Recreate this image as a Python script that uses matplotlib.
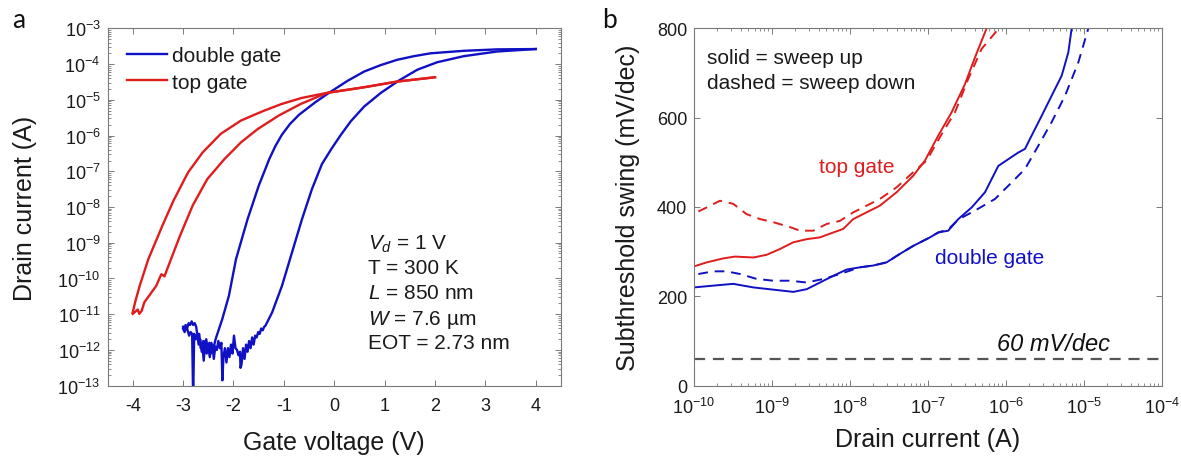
import numpy as np
import matplotlib
matplotlib.use("Agg")
import matplotlib.pyplot as plt
from matplotlib.ticker import LogLocator, NullFormatter, FixedLocator

plt.rcParams['font.family'] = ['Liberation Sans', 'DejaVu Sans']
plt.rcParams['mathtext.fontset'] = 'custom'
plt.rcParams['mathtext.rm'] = 'Liberation Sans'
plt.rcParams['mathtext.it'] = 'Liberation Sans:italic'
plt.rcParams['mathtext.bf'] = 'Liberation Sans:bold'
plt.rcParams['axes.unicode_minus'] = False

# ---------------- Panel a data (gate voltage V, log10 drain current A) ----------------
dg_up_v = [-3.00, -2.97, -2.94, -2.91, -2.88, -2.85, -2.82, -2.80, -2.78, -2.75, -2.72, -2.69,
           -2.66, -2.63, -2.60, -2.57, -2.54, -2.51, -2.48, -2.45, -2.42, -2.39, -2.36, -2.33,
           -2.30, -2.27, -2.24, -2.22, -2.20, -2.17, -2.14, -2.11, -2.08, -2.05, -2.02, -1.99,
           -1.96, -1.93, -1.90, -1.87, -1.86, -1.84, -1.81, -1.78, -1.75, -1.72, -1.69, -1.66,
           -1.63, -1.60, -1.57, -1.54, -1.51, -1.48, -1.45, -1.42, -1.39,
           -1.365, -1.233, -1.036, -0.838, -0.640, -0.443, -0.245, -0.05, 0.132, 0.329, 0.593,
           0.922, 1.285, 1.647, 2.042, 2.569, 3.228, 4.0]
dg_up_log = [-11.40, -11.50, -11.35, -11.45, -11.60, -11.50, -11.55, -13.40, -11.55, -11.70, -11.60, -11.85,
             -11.70, -12.05, -11.75, -11.95, -11.70, -12.00, -11.80, -12.10, -11.85, -12.25, -11.90, -12.00,
             -11.75, -11.95, -11.80, -12.85, -12.20, -11.95, -12.35, -11.95, -12.20, -11.85, -12.10, -11.60,
             -11.95, -12.00, -12.15, -12.05, -12.50, -12.40, -11.95, -12.25, -11.85, -12.05, -11.75, -11.95,
             -11.65, -11.85, -11.60, -11.65, -11.50, -11.55, -11.40, -11.45, -11.35,
             -11.32, -10.95, -10.20, -9.27, -8.34, -7.50, -6.80, -6.36, -5.98, -5.60, -5.19,
             -4.81, -4.46, -4.16, -3.95, -3.78, -3.65, -3.58]
dg_down_v = [4.0, 3.228, 2.569, 1.910, 1.580, 1.252, 0.922, 0.593, 0.264, -0.12, -0.377, -0.70,
             -0.88, -1.04, -1.17, -1.29, -1.50, -1.72, -1.95, -2.090, -2.221, -2.353,
             -2.38, -2.41, -2.44, -2.47, -2.50, -2.53, -2.56, -2.59, -2.62, -2.65, -2.68, -2.71,
             -2.74, -2.77, -2.80, -2.83, -2.86, -2.89, -2.92, -2.95, -2.98, -3.00]
dg_down_log = [-3.58, -3.59, -3.63, -3.70, -3.78, -3.88, -4.03, -4.21, -4.47, -4.82, -5.07, -5.42,
               -5.68, -5.98, -6.30, -6.66, -7.41, -8.34, -9.46, -10.48, -11.13, -11.69,
               -11.85, -12.05, -11.80, -12.20, -11.90, -12.10, -11.75, -12.30, -11.85, -11.95, -11.55, -11.65,
               -11.35, -11.25, -11.30, -11.20, -11.30, -11.25, -11.40, -11.30, -11.45, -11.35]

tg_up_v = [-4.00, -3.95, -3.90, -3.87, -3.82, -3.77, -3.53, -3.47, -3.43, -3.37, -3.24, -3.06,
           -2.81, -2.52, -2.18, -1.85, -1.52, -1.10, -0.67, -0.15, 0.59, 1.25, 2.0]
tg_up_log = [-10.99, -10.93, -10.87, -10.99, -10.90, -10.67, -10.20, -10.00, -9.88, -9.94, -9.46, -8.80,
             -7.96, -7.22, -6.66, -6.19, -5.82, -5.44, -5.12, -4.81, -4.65, -4.49, -4.37]
tg_down_v = [2.0, 1.25, 0.59, -0.12, -0.65, -1.05, -1.42, -1.85, -2.25, -2.61, -2.90, -3.19,
             -3.41, -3.69, -3.86, -3.94, -4.0]
tg_down_log = [-4.37, -4.49, -4.65, -4.80, -4.95, -5.12, -5.32, -5.58, -5.95, -6.47, -7.03, -7.82,
               -8.52, -9.46, -10.20, -10.60, -10.95]

# ---------------- Panel b data (log10 drain current A, SS mV/dec) ----------------
tg_solid_log = [-10.0, -9.838, -9.624, -9.474, -9.239, -9.068, -8.897, -8.726, -8.555, -8.384, -8.213,
                -8.085, -7.957, -7.786, -7.615, -7.401, -7.187, -7.037, -6.866, -6.695, -6.524,
                -6.395, -6.246]
tg_solid_ss = [267, 276, 285, 289, 287, 293, 306, 321, 328, 332, 343,
               351, 373, 388, 403, 433, 470, 504, 560, 612, 675,
               735, 800]
tg_dash_log = [-9.944, -9.838, -9.667, -9.496, -9.325, -9.154, -8.983, -8.769, -8.640, -8.469, -8.298,
               -8.127, -7.957, -7.786, -7.615, -7.401, -7.187, -7.016, -6.823, -6.652, -6.481,
               -6.310, -6.088]
tg_dash_ss = [390, 399, 414, 407, 384, 373, 366, 355, 347, 347, 362,
              369, 388, 403, 418, 444, 478, 504, 563, 612, 687,
              754, 800]
dg_solid_log = [-10.0, -9.752, -9.496, -9.239, -8.983, -8.726, -8.555, -8.384, -8.213, -8.042, -7.871,
                -7.701, -7.530, -7.359, -7.187, -6.973, -6.866, -6.738, -6.609, -6.438, -6.267,
                -6.096, -5.968, -5.839, -5.754, -5.668, -5.540, -5.412, -5.283, -5.198, -5.155]
dg_solid_ss = [220, 224, 228, 220, 215, 210, 216, 231, 246, 260, 265,
               269, 276, 295, 313, 332, 343, 347, 373, 399, 433,
               492, 507, 522, 530, 560, 604, 649, 694, 746, 800]
dg_dash_log = [-9.944, -9.752, -9.581, -9.410, -9.196, -8.983, -8.769, -8.555, -8.341, -8.127, -7.957,
               -7.871, -7.701, -7.530, -7.359, -7.187, -6.973, -6.866, -6.738, -6.609, -6.395,
               -6.138, -5.925, -5.754, -5.583, -5.412, -5.240, -5.069, -4.941]
dg_dash_ss = [250, 256, 256, 250, 239, 235, 235, 231, 239, 250, 260,
              265, 269, 276, 295, 313, 332, 343, 350, 372, 392,
              418, 455, 485, 537, 590, 649, 724, 800]
ideal_ss = 60

BLUE = '#1010c4'
RED = '#e01c1c'
GRAY_SPINE = '#7a7a7a'
TXT = '#1a1a1a'

W, H = 1181, 460
fig = plt.figure(figsize=(W / 100, H / 100), dpi=100)
ax1 = fig.add_axes([107.5 / W, 73.3 / H, 453.5 / W, 357.4 / H])
ax2 = fig.add_axes([694 / W, 73.3 / H, 467.7 / W, 357.4 / H])


def style_axes(ax):
    for s in ax.spines.values():
        s.set_color(GRAY_SPINE)
        s.set_linewidth(0.8)
    ax.tick_params(which='both', direction='in', top=True, right=True, color=GRAY_SPINE,
                   labelcolor=TXT, labelsize=13, pad=5)
    ax.tick_params(axis='x', which='both', pad=8)
    ax.tick_params(which='major', length=4, width=0.7)
    ax.tick_params(which='minor', length=2, width=0.6)


# ---------------- Panel a ----------------
ax1.plot(dg_up_v, 10 ** np.array(dg_up_log), color=BLUE, lw=1.7, label='double gate')
ax1.plot(dg_down_v, 10 ** np.array(dg_down_log), color=BLUE, lw=1.7)
ax1.plot(tg_up_v, 10 ** np.array(tg_up_log), color=RED, lw=1.7, label='top gate')
ax1.plot(tg_down_v, 10 ** np.array(tg_down_log), color=RED, lw=1.7)
ax1.set_yscale('log')
ax1.set_xlim(-4.5, 4.5)
ax1.set_ylim(1e-13, 1e-3)
ax1.xaxis.set_major_locator(FixedLocator([-4, -3, -2, -1, 0, 1, 2, 3, 4]))
ax1.yaxis.set_major_locator(LogLocator(base=10, numticks=20))
ax1.yaxis.set_minor_locator(LogLocator(base=10, subs=np.arange(2, 10), numticks=200))
ax1.yaxis.set_minor_formatter(NullFormatter())
style_axes(ax1)
ax1.set_xlabel('Gate voltage (V)', fontsize=18, color=TXT)
ax1.set_ylabel('Drain current (A)', fontsize=18, color=TXT)
ax1.xaxis.label.set_va('center')
ax1.yaxis.label.set_va('center')
ax1.xaxis.set_label_coords(0.5, -56.3 / 357.4)
ax1.yaxis.set_label_coords(-82.5 / 453.5, 0.5)
leg = ax1.legend(loc='upper left', bbox_to_anchor=(0.044, 0.951), frameon=False, fontsize=15,
                 handlelength=1.9, handletextpad=0.22, labelspacing=0.38, borderpad=0,
                 borderaxespad=0)
for t in leg.get_texts():
    t.set_color(TXT)

ann = ['$V_d$ = 1 V', 'T = 300 K', '$L$ = 850 nm', '$W$ = 7.6 µm', 'EOT = 2.73 nm']
for i, s in enumerate(ann):
    ax1.text(0.575, 0.4057 - i * 0.07, s, transform=ax1.transAxes, fontsize=15,
             va='center_baseline', ha='left', color=TXT)

# ---------------- Panel b ----------------
ax2.plot(10 ** np.array(tg_solid_log), tg_solid_ss, color=RED, lw=1.4)
ax2.plot(10 ** np.array(tg_dash_log), tg_dash_ss, color=RED, lw=1.4, dashes=(5, 3.5))
ax2.plot(10 ** np.array(dg_solid_log), dg_solid_ss, color=BLUE, lw=1.4)
ax2.plot(10 ** np.array(dg_dash_log), dg_dash_ss, color=BLUE, lw=1.4, dashes=(5, 3.5))
ax2.axhline(ideal_ss, color='#555555', lw=1.6, dashes=(5, 3.5))
ax2.set_xscale('log')
ax2.set_xlim(1e-10, 1e-4)
ax2.set_ylim(0, 800)
ax2.yaxis.set_major_locator(FixedLocator([0, 200, 400, 600, 800]))
ax2.xaxis.set_major_locator(LogLocator(base=10, numticks=20))
ax2.xaxis.set_minor_locator(LogLocator(base=10, subs=np.arange(2, 10), numticks=200))
ax2.xaxis.set_minor_formatter(NullFormatter())
style_axes(ax2)
ax2.set_xlabel('Drain current (A)', fontsize=18, color=TXT)
ax2.set_ylabel('Subthreshold swing (mV/dec)', fontsize=18, color=TXT)
ax2.xaxis.label.set_va('center')
ax2.yaxis.label.set_va('center')
ax2.xaxis.set_label_coords(0.5, -53.3 / 357.4)
ax2.yaxis.set_label_coords(-66 / 467.7, 0.5)

ax2.text(0.028, 0.923, 'solid = sweep up', transform=ax2.transAxes, fontsize=15,
         va='center_baseline', ha='left', color=TXT)
ax2.text(0.028, 0.853, 'dashed = sweep down', transform=ax2.transAxes, fontsize=15,
         va='center_baseline', ha='left', color=TXT)
ax2.text(0.268, 0.620, 'top gate', transform=ax2.transAxes, fontsize=15,
         va='center_baseline', ha='left', color=RED)
ax2.text(0.515, 0.3637, 'double gate', transform=ax2.transAxes, fontsize=15,
         va='center_baseline', ha='left', color=BLUE)
ax2.text(0.648, 0.126, '60 mV/dec', transform=ax2.transAxes, fontsize=17, style='italic',
         va='center_baseline', ha='left', color='#111111')

fig.text(19 / W, 1 - 20 / H, 'a', fontsize=19, family=['Lato', 'DejaVu Sans'],
         ha='center', va='center', color='#111111')
fig.text(609 / W, 1 - 20 / H, 'b', fontsize=19, family=['Lato', 'DejaVu Sans'],
         ha='center', va='center', color='#111111')

fig.savefig('out.png', dpi=100)
